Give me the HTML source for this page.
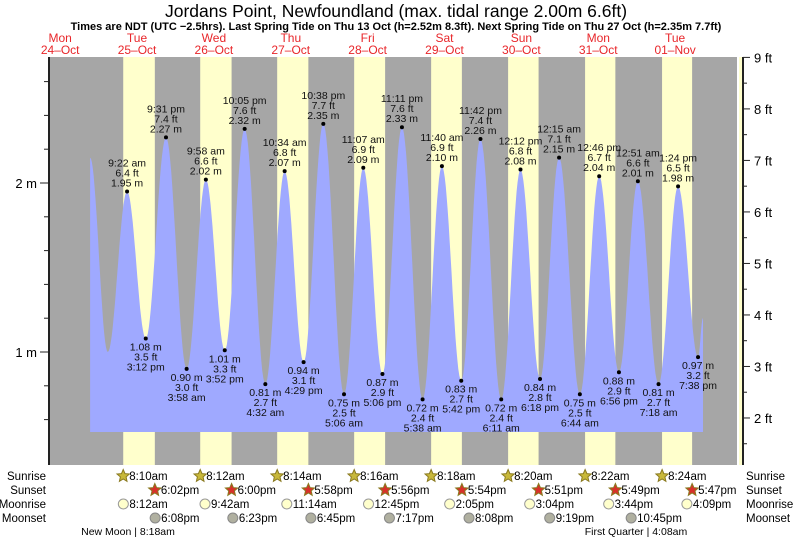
<!DOCTYPE html>
<html><head><meta charset="utf-8"><style>
html,body{margin:0;padding:0;background:#fff}
svg{display:block;font-family:"Liberation Sans",sans-serif}
</style></head><body>
<svg id="chart" width="793" height="539" viewBox="0 0 793 539" xmlns="http://www.w3.org/2000/svg">
<text x="396" y="17" text-anchor="middle" font-size="17.5">Jordans Point, Newfoundland (max. tidal range 2.00m 6.6ft)</text>
<text x="396" y="30" text-anchor="middle" font-size="11" font-weight="bold">Times are NDT (UTC −2.5hrs). Last Spring Tide on Thu 13 Oct (h=2.52m 8.3ft). Next Spring Tide on Thu 27 Oct (h=2.35m 7.7ft)</text>
<g id="plot"></g>
</svg>
<script>
// time values: day offset from midnight 24-Oct (hours/24 added), heights in m
const extremaDays = [0,1,1,1,1,2,2,2,2,3,3,3,3,4,4,4,4,5,5,5,5,6,6,6,7,7,7,7,8,8,8,8,8];
const extremaTimes = ["21:50","03:20","09:22","15:12","21:31","03:58","09:58","15:52","22:05","04:32","10:34","16:29","22:38","05:06","11:07","17:06","23:11","05:38","11:40","17:42","23:42","06:11","12:12","18:18","00:15","06:44","12:46","18:56","00:51","07:18","13:24","19:38","21:10"];
const extremaHeights = [2.15,1.00,1.95,1.08,2.27,0.90,2.02,1.01,2.32,0.81,2.07,0.94,2.35,0.75,2.09,0.87,2.33,0.72,2.10,0.83,2.26,0.72,2.08,0.84,2.15,0.75,2.04,0.88,2.01,0.81,1.98,0.97,1.20];
const extremaLabelTimes = [null,null,"9:22 am","3:12 pm","9:31 pm","3:58 am","9:58 am","3:52 pm","10:05 pm","4:32 am","10:34 am","4:29 pm","10:38 pm","5:06 am","11:07 am","5:06 pm","11:11 pm","5:38 am","11:40 am","5:42 pm","11:42 pm","6:11 am","12:12 pm","6:18 pm","12:15 am","6:44 am","12:46 pm","6:56 pm","12:51 am","7:18 am","1:24 pm","7:38 pm",null];
const extremaFt = [null,null,"6.4","3.5","7.4","3.0","6.6","3.3","7.6","2.7","6.8","3.1","7.7","2.5","6.9","2.9","7.6","2.4","6.9","2.7","7.4","2.4","6.8","2.8","7.1","2.5","6.7","2.9","6.6","2.7","6.5","3.2",null];
const dayNames = ["Mon","Tue","Wed","Thu","Fri","Sat","Sun","Mon","Tue"];
const dayDates = ["24–Oct","25–Oct","26–Oct","27–Oct","28–Oct","29–Oct","30–Oct","31–Oct","01–Nov"];
const sunrise = ["","8:10am","8:12am","8:14am","8:16am","8:18am","8:20am","8:22am","8:24am"];
const sunset = ["","6:02pm","6:00pm","5:58pm","5:56pm","5:54pm","5:51pm","5:49pm","5:47pm"];
const moonrise = ["","8:12am","9:42am","11:14am","12:45pm","2:05pm","3:04pm","3:44pm","4:09pm"];
const moonset = ["","6:08pm","6:23pm","6:45pm","7:17pm","8:08pm","9:19pm","10:45pm",""];
const mTicks = [1,2];
const ftTicks = [2,3,4,5,6,7,8,9];

const NS="http://www.w3.org/2000/svg";
const plot=document.getElementById('plot');
const X0=49,X1=737,Y0=57,Y1=465;
function xDay(d){return 20.2+d*76.87;}
function yM(m){return 521-169*m;}
function yFt(f){return 521-169*f/3.2808;}
function parseT(s){
  let m=s.match(/(\d+):(\d+)\s*(am|pm)?/);let h=+m[1],mi=+m[2];
  if(m[3]){if(m[3]==='pm'&&h!==12)h+=12;if(m[3]==='am'&&h===12)h=0;}
  return (h+mi/60)/24;}
function el(tag,attrs,parent){const e=document.createElementNS(NS,tag);for(const k in attrs)e.setAttribute(k,attrs[k]);(parent||plot).appendChild(e);return e;}
function txt(x,y,s,attrs,parent){const t=el('text',Object.assign({x:x,y:y},attrs||{}),parent);t.textContent=s;return t;}

const bg=el('rect',{x:X0,y:Y0,width:X1-X0,height:Y1-Y0,fill:'#a6a6a6'});


for(let d=1;d<=9;d++){
  const r=d<9?parseT(sunrise[d]):parseT("8:26am"), s=d<9?parseT(sunset[d]):parseT("5:45pm");
  let xa=Math.max(X0,xDay(d+r)), xb=Math.min(X1+5,xDay(d+s));
  if(xb<=xa)continue;
  const band=el('rect',{x:xa,y:Y0,width:xb-xa,height:Y1-Y0,fill:'#ffffcc'});
  
  
}
const pts=extremaDays.map((d,i)=>[d+parseT(extremaTimes[i]),extremaHeights[i]]);
let path=`M${xDay(pts[0][0]).toFixed(1)},432`;
for(let i=0;i<pts.length-1;i++){
  const [t0,h0]=pts[i],[t1,h1]=pts[i+1];
  for(let k=0;k<=20;k++){const f=k/20;const t=t0+(t1-t0)*f;const h=h0+(h1-h0)*(1-Math.cos(Math.PI*f))/2;
    path+=` L${xDay(t).toFixed(1)},${yM(h).toFixed(1)}`;}
}
path+=` L${xDay(pts[pts.length-1][0]).toFixed(1)},432 Z`;
const area=el('path',{d:path,fill:'#9fa9ff'});


for(let i=0;i<pts.length;i++){
  if(!extremaLabelTimes[i])continue;
  const x=xDay(pts[i][0]),y=yM(pts[i][1]);const high=pts[i][1]>1.5;
  const dot=el('circle',{cx:x,cy:y,r:2,fill:'#000'});
  
  
  const g=el('g',{'font-size':'10.5','text-anchor':'middle',fill:'#111'});
  
  
  const m=pts[i][1].toFixed(2)+" m",f=extremaFt[i]+" ft",tm=extremaLabelTimes[i];
  if(high){txt(x,y-25,tm,{},g);txt(x,y-15,f,{},g);txt(x,y-5,m,{},g);}
  else{txt(x,y+12,m,{},g);txt(x,y+22,f,{},g);txt(x,y+32,tm,{},g);}
}
const la=el('line',{x1:X0,y1:Y0,x2:X0,y2:Y1,stroke:'#222','stroke-width':2});


for(let v=0.6;v<=2.81;v+=0.2){const y=yM(v);if(y<Y0||y>Y1)continue;el('line',{x1:X0-5,y1:y,x2:X0,y2:y,stroke:'#222'});}
mTicks.forEach(v=>{const y=yM(v);el('line',{x1:X0-9,y1:y,x2:X0,y2:y,stroke:'#222'});
  const t=txt(X0-12,y+5,v+" m",{'text-anchor':'end','font-size':'13'});
  
  });
const ra=el('line',{x1:X1+6,y1:Y0,x2:X1+6,y2:Y1,stroke:'#222','stroke-width':2});


for(let v=1.5;v<=9;v+=0.5){const y=yFt(v);if(y>Y1)continue;el('line',{x1:X1+6,y1:y,x2:X1+(v%1?10:13),y2:y,stroke:'#222'});}
ftTicks.forEach(v=>{const y=yFt(v);const t=txt(X1+17,y+5,v+" ft",{'font-size':'13'});
  
  });
dayNames.forEach((n,i)=>{const x=xDay(i+0.52);
  const g=el('g',{fill:'#e8262a','font-size':'12','text-anchor':'middle'});
  
  
  txt(x,42,n,{},g);txt(x,54,dayDates[i],{},g);});
const rows=[["Sunrise",480],["Sunset",494],["Moonrise",508],["Moonset",522]];
rows.forEach(([n,y])=>{
  const a=txt(46,y,n,{'text-anchor':'end','font-size':'11.5'});
  
  
  const b=txt(746,y,n,{'font-size':'11.5'});
  
  });
function star(cx,cy,fill){let p='';for(let k=0;k<10;k++){const r=k%2?3:6.5;const a=-Math.PI/2+k*Math.PI/5;p+=(cx+r*Math.cos(a)).toFixed(1)+','+(cy+r*Math.sin(a)).toFixed(1)+' ';}
  return el('polygon',{points:p,fill:fill,stroke:'#8a7a20','stroke-width':1});}
for(let d=1;d<=8;d++){
  const sr=xDay(d+parseT(sunrise[d])),ss=xDay(d+parseT(sunset[d]));
  const s1=star(sr,476,'#c8b83a');
  txt(sr+6,480,sunrise[d],{'font-size':'11.5'});
  const s2=star(ss,490,'#d8302a');
  txt(ss+6,494,sunset[d],{'font-size':'11.5'});
  const mr=xDay(d+parseT(moonrise[d]));
  const c1=el('circle',{cx:mr,cy:504,r:5,fill:'#ffffcc',stroke:'#999'});
  
  txt(mr+6,508,moonrise[d],{'font-size':'11.5'});
  if(moonset[d]){const ms=xDay(d+parseT(moonset[d]));
    const c2=el('circle',{cx:ms,cy:518,r:5,fill:'#b0b0a0',stroke:'#888'});
    
    txt(ms+6,522,moonset[d],{'font-size':'11.5'});}
}
const p1=txt(128,535,"New Moon | 8:18am",{'text-anchor':'middle','font-size':'10.5'});

const p2=txt(636,535,"First Quarter | 4:08am",{'text-anchor':'middle','font-size':'10.5'});

</script>
</body></html>
